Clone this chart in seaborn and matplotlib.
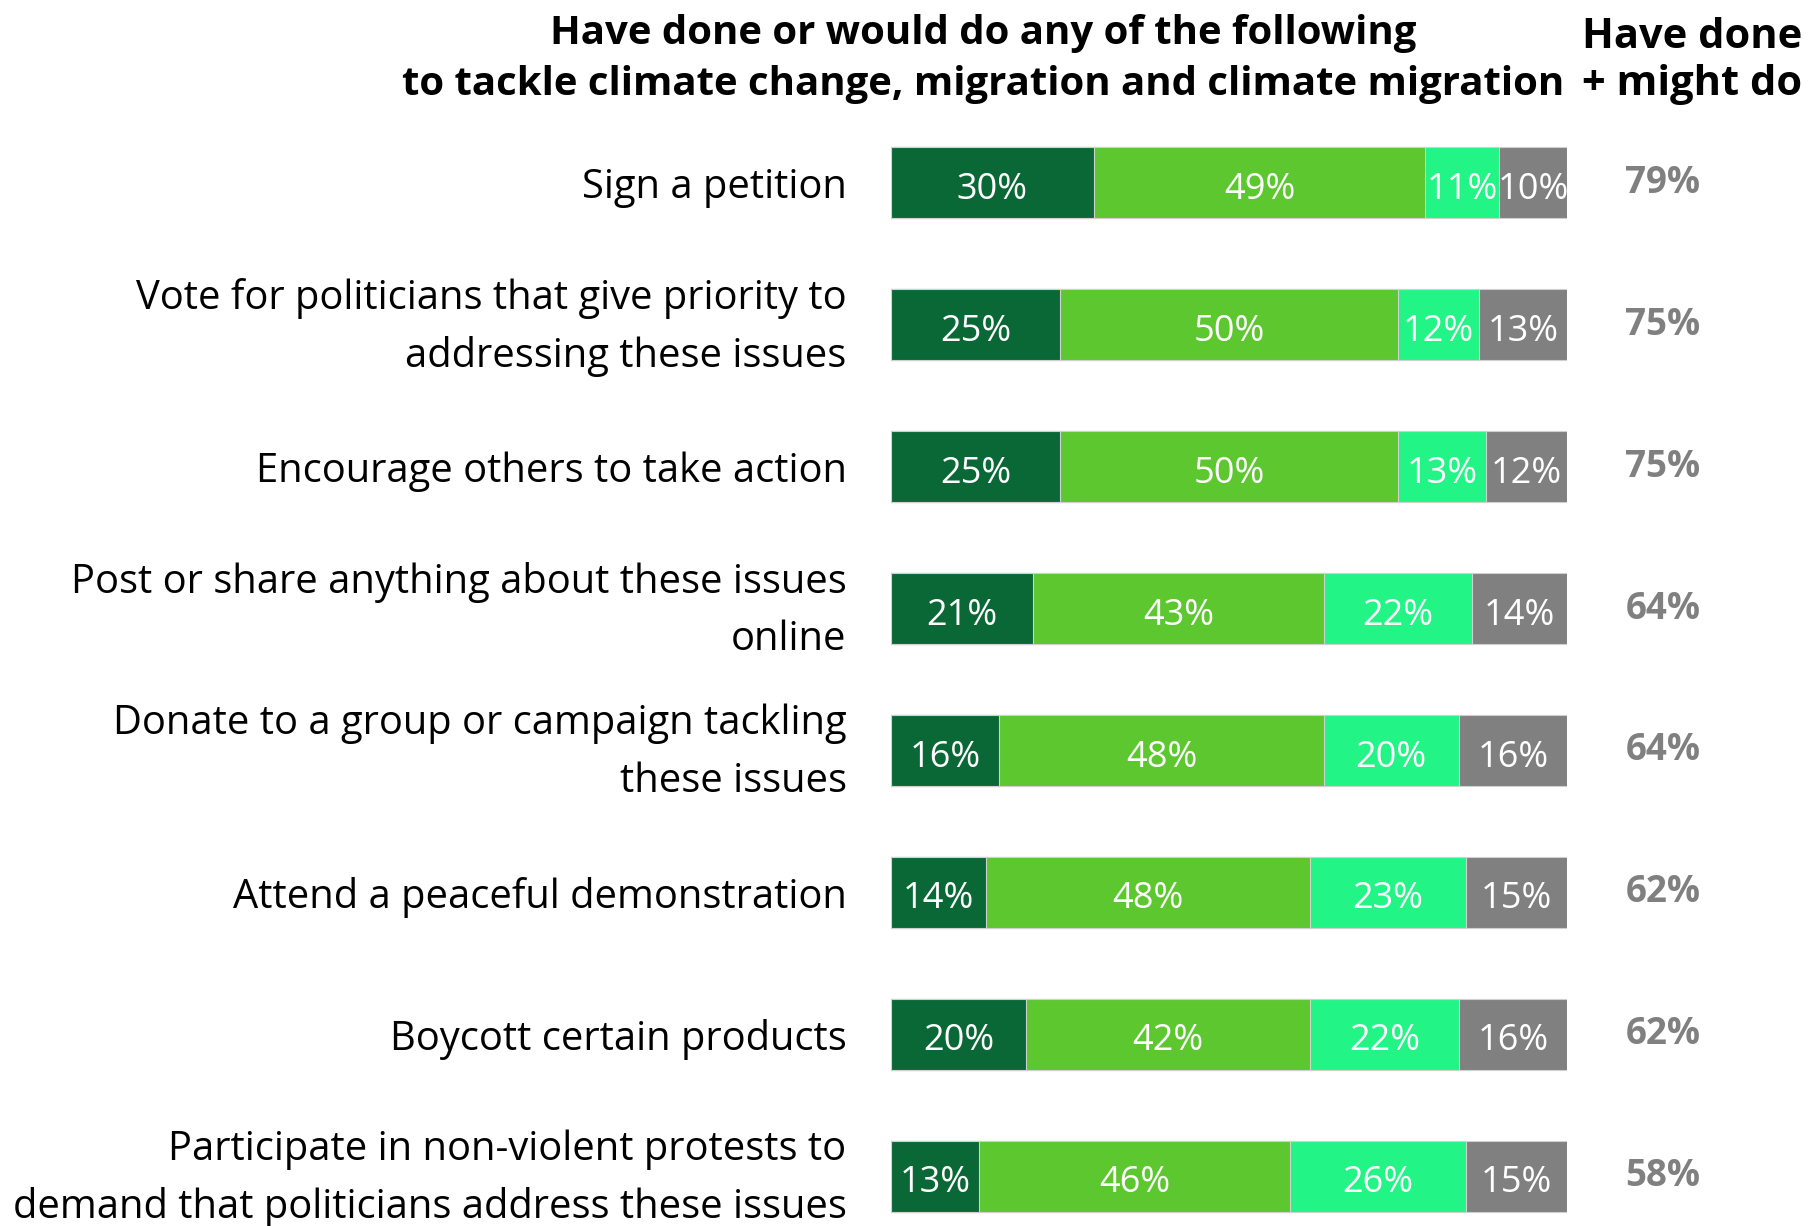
import pandas as pd
import numpy as np
import matplotlib.pyplot as plt
import matplotlib.transforms as mtransforms
import seaborn as sns

# Survey data
actions = [
    "Sign a petition",
    "Vote for politicians that give priority to\naddressing these issues",
    "Encourage others to take action",
    "Post or share anything about these issues\nonline",
    "Donate to a group or campaign tackling\nthese issues",
    "Attend a peaceful demonstration",
    "Boycott certain products",
    "Participate in non-violent protests to\ndemand that politicians address these issues",
]
have_done = [30, 25, 25, 21, 16, 14, 20, 13]
might_do = [49, 50, 50, 43, 48, 48, 42, 46]
would_not = [11, 12, 13, 22, 20, 23, 22, 26]
dont_know = [10, 13, 12, 14, 16, 15, 16, 15]
done_plus_might = [79, 75, 75, 64, 64, 62, 62, 58]

series = ["Have done", "Might do", "Would not", "Don't know"]
colors = ["#0A6836", "#5CC72F", "#22F585", "#808080"]

df = pd.DataFrame({
    "action": actions,
    "Have done": have_done,
    "Might do": might_do,
    "Would not": would_not,
    "Don't know": dont_know,
})
cum = df[series].cumsum(axis=1)

sns.set_theme(style="white")
plt.rcParams['font.family'] = ['Open Sans', 'DejaVu Sans']
plt.rcParams['text.color'] = 'black'
plt.rcParams['ytick.color'] = 'black'

fig = plt.figure(figsize=(18.1, 12.26), dpi=100)
ax = fig.add_axes([891 / 1810, 0, 676 / 1810, (1226 - 112) / 1226])

# stacked bars: draw cumulative totals from the widest down
for s, c in reversed(list(zip(series, colors))):
    sns.barplot(x=cum[s], y=df["action"], color=c, width=0.5, orient="h",
                edgecolor="#d0d0d0", linewidth=0.8, saturation=1, ax=ax)

# segment labels
for i in range(len(df)):
    left = 0
    for s in series:
        v = df.loc[i, s]
        ax.text(left + v / 2, i + 0.05, f"{v}%", ha="center", va="center",
                color="white", fontsize=26)
        left += v
    ax.text(114.2, i, f"{done_plus_might[i]}%", ha="center", va="center",
            color="#808080", fontsize=26.5, fontweight="bold", clip_on=False)

ax.set_xlim(0, 100)
ax.set_ylim(7.352, -0.5)
ax.set_xlabel("")
ax.set_ylabel("")
ax.set_xticks([])
ax.tick_params(axis="y", length=0, pad=32, labelsize=28.7)
lift = mtransforms.ScaledTranslation(0, 0.11, fig.dpi_scale_trans)
for lab in ax.get_yticklabels():
    lab.set_linespacing(1.55)
    if "\n" in lab.get_text():
        lab.set_transform(lab.get_transform() + lift)
sns.despine(ax=ax, left=True, bottom=True)

fig.text(983 / 1810, 1 - 59 / 1226,
         "Have done or would do any of the following\nto tackle climate change, migration and climate migration",
         ha="center", va="center", fontsize=28.9, fontweight="bold", linespacing=1.42)
fig.text(1582 / 1810, 1 - 61 / 1226, "Have done\n+ might do",
         ha="left", va="center", fontsize=30, fontweight="bold", linespacing=1.17)

fig.savefig("out.png", dpi=100)
